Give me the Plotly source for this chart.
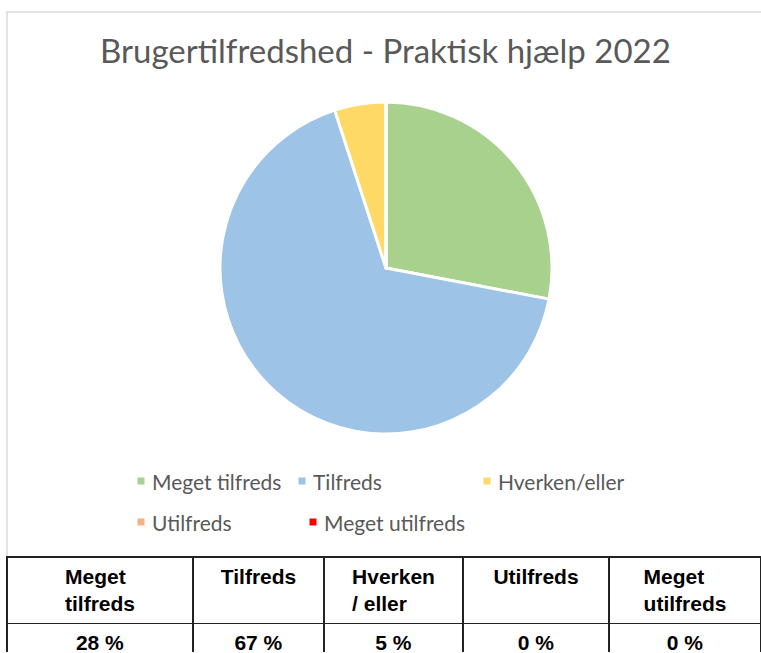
import plotly.graph_objects as go

W, H = 761, 653

categories = ["Meget tilfreds", "Tilfreds", "Hverken/eller", "Utilfreds", "Meget utilfreds"]
values = [28, 67, 5, 0, 0]
colors = ["#A9D18E", "#9DC3E6", "#FFD966", "#F4B183", "#FF0000"]
table_headers = ["Meget<br>tilfreds", "Tilfreds", "Hverken<br>/ eller", "Utilfreds", "Meget<br>utilfreds"]
table_values = ["28 %", "67 %", "5 %", "0 %", "0 %"]
title_text = "Brugertilfredshed - Praktisk hjælp 2022"

def px(x):
    return x / W

def py(y):
    return 1 - y / H

fig = go.Figure()

cx, cy, r = 386, 268, 166
fig.add_trace(go.Pie(
    labels=categories, values=values, sort=False, direction="clockwise", rotation=0,
    marker=dict(colors=colors, line=dict(color="white", width=3)),
    textinfo="none", hoverinfo="label+percent", showlegend=False,
    domain=dict(x=[px(cx - r), px(cx + r)], y=[py(cy + r), py(cy - r)]),
))

col_edges = [7, 193, 324, 463, 609, 761]
widths = [col_edges[i + 1] - col_edges[i] for i in range(5)]
fig.add_trace(go.Table(
    domain=dict(x=[px(7), 1.0], y=[0.0, py(557)]),
    columnwidth=widths,
    header=dict(values=[f"<b>{h}</b>" for h in table_headers], height=64, align="center",
                fill=dict(color="white"), line=dict(color="#222222", width=1.5),
                font=dict(family="Liberation Sans, Arial", size=21, color="black")),
    cells=dict(values=[[f"<b>{v}</b>"] for v in table_values], height=30, align="center",
               fill=dict(color="white"), line=dict(color="#222222", width=1.5),
               font=dict(family="Liberation Sans, Arial", size=21, color="black")),
))

shapes = [dict(type="rect", xref="paper", yref="paper", x0=px(7), x1=px(775), y0=py(557), y1=py(12),
               line=dict(color="#D9D9D9", width=1.5), fillcolor="rgba(0,0,0,0)", layer="below")]
annotations = [dict(text=title_text, x=px(385), y=py(50), xref="paper", yref="paper", showarrow=False,
                    xanchor="center", yanchor="middle",
                    font=dict(family="Lato, Open Sans", size=33, color="#595959"))]

legend_pos = [(141, 481), (302, 481), (487, 481), (141, 522), (313, 522)]
for (lx, ly), name, c in zip(legend_pos, categories, colors):
    shapes.append(dict(type="rect", xref="paper", yref="paper", x0=px(lx - 3.5), x1=px(lx + 3.5),
                       y0=py(ly + 3.5), y1=py(ly - 3.5), line=dict(width=0), fillcolor=c))
    annotations.append(dict(text=name, x=px(lx + 9), y=py(ly), xref="paper", yref="paper",
                            showarrow=False, xanchor="left", yanchor="middle",
                            font=dict(family="Lato, Open Sans", size=21, color="#595959")))

fig.update_layout(width=W, height=H, margin=dict(l=0, r=0, t=0, b=0),
                  paper_bgcolor="white", plot_bgcolor="white",
                  shapes=shapes, annotations=annotations)

fig.write_html("out.html", config={"displayModeBar": False},
               post_script="document.body.style.margin='0';document.body.style.overflow='hidden';")
